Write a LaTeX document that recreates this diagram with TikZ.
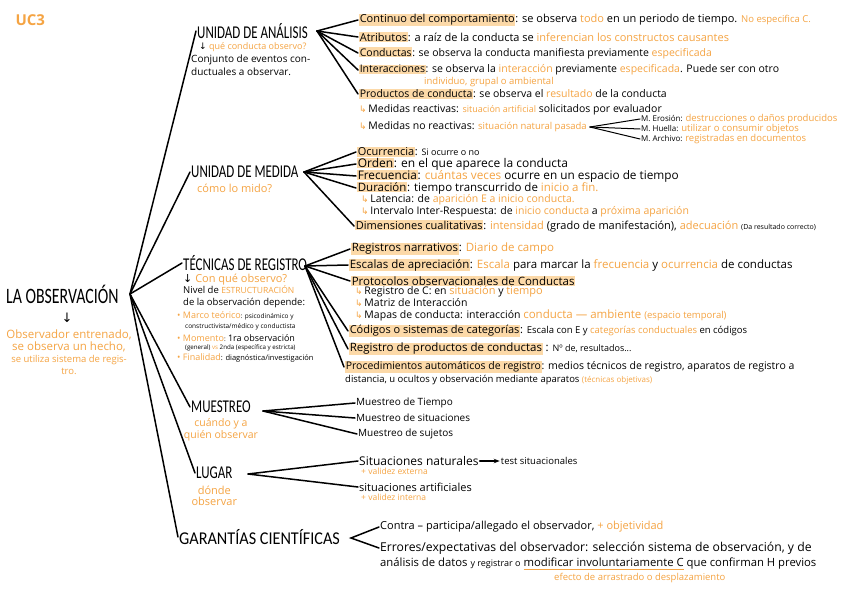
\documentclass[tikz,border=0pt]{standalone}
\usepackage{fontspec}
\setmainfont{Open Sans}
\newfontfamily\hdfont[FakeStretch=0.72]{Carlito}
\newfontfamily\hdwfont[FakeStretch=0.9]{Carlito}
\newfontfamily\symfont{DejaVu Sans}
\usepackage{tikz}
\usetikzlibrary{arrows.meta, positioning}
\definecolor{mOrange}{HTML}{F5A443}
\definecolor{mMarker}{HTML}{FCD9A8}
\newcommand\fs[1]{\fontsize{#1}{#1}\selectfont}
\newcommand\ot[1]{\textcolor{mOrange}{#1}}
\newcommand\hl[1]{{\setlength{\fboxsep}{0.6pt}\colorbox{mMarker}{#1}}}
\newcommand\hk{\ot{\symfont\fs{9}↳}\,}
\newcommand\dn{{\symfont ↓}}
\newlength\ullen
\newcommand\oul[1]{\settowidth\ullen{#1}\rlap{\textcolor{mOrange}{\rule[-3pt]{\ullen}{0.9pt}}}#1}

\begin{document}
\begin{tikzpicture}[x=1pt, y=-1pt,
    tx/.style={anchor=west, inner sep=1pt, font=\fs{10.5}},
    hd/.style={anchor=west, inner sep=1pt, font=\hdfont\fs{18}},
    br/.style={line width=1.5pt, line cap=round}]
  \path[use as bounding box, fill=white] (0,0) rectangle (848,599);

  \node[anchor=west, font=\bfseries\fs{15}, text=mOrange] (uc) at (12,20) {UC3};

  \node[hd, font=\hdfont\fs{22}] (obs) at (5,294) {LA OBSERVACIÓN};
  \node[font=\symfont\fs{13}, inner sep=0pt] (obsar) at (67,318) {↓};
  \node[align=center, text=mOrange, font=\fontsize{11.5}{12}\selectfont] (obsn) at (69,352) {Observador entrenado,\\se observa un hecho,\\{\fs{9.5}se utiliza sistema de regis-}\\{\fs{9.5}tro.}};
  \coordinate (oj) at (130,294);

  \node[hd] (ana) at (196,31) {UNIDAD DE ANÁLISIS};
  \node[tx, font=\fs{9}] (anaq) at (198,47) {\dn\ \ot{qué conducta observo?}};
  \node[tx, align=left, font=\fontsize{10}{13}\selectfont] (anad) at (190,65) {Conjunto de eventos con-\\ductuales a observar.};
  \coordinate (aj) at (317,31);

  \node[tx, font=\fs{11}] (a1) at (358,20) {\hl{Continuo del comportamiento}: se observa \ot{todo} en un periodo de tiempo. \ot{\fs{9.5}No especifica C.}};
  \node[tx, font=\fs{11}] (a2) at (358,37) {\hl{Atributos}: a raíz de la conducta se \ot{inferencian los constructos causantes}};
  \node[tx] (a3) at (358,53) {\hl{Conductas}: se observa la conducta manifiesta previamente \ot{especificada}};
  \node[tx] (a4) at (358,70) {\hl{Interacciones}: se observa la \ot{interacción} previamente \ot{especificada}. Puede ser con otro};
  \node[tx, font=\fs{9.5}, text=mOrange] (a4b) at (423,82) {individuo, grupal o ambiental};
  \node[tx] (a5) at (358,94) {\hl{Productos de conducta}: se observa el \ot{resultado} de la conducta};
  \node[tx, font=\fs{10.5}] (a6) at (358,110) {\hk Medidas reactivas: \ot{\fs{9}situación artificial} solicitados por evaluador};
  \node[tx, font=\fs{10.5}] (a7) at (358,127) {\hk Medidas no reactivas: \ot{\fs{9.5}situación natural pasada}};
  \coordinate[right=2pt of a7.east] (nj);
  \node[tx, font=\fs{8}] (m1) at (640,119) {M. Erosión: \ot{\fs{9.5}destrucciones o daños producidos}};
  \node[tx, font=\fs{8}] (m2) at (640,129) {M. Huella: \ot{\fs{9.5}utilizar o consumir objetos}};
  \node[tx, font=\fs{8}] (m3) at (640,139) {M. Archivo: \ot{\fs{9.5}registradas en documentos}};
  \foreach \n in {a1,a2,a3,a4,a5} \draw[br] (aj) -- (\n.west);
  \foreach \n in {m1,m2,m3} \draw[br, line width=1pt] (nj) -- (\n.west);

  \node[hd] (med) at (190,172) {UNIDAD DE MEDIDA};
  \node[tx, font=\fs{11}, text=mOrange] (medq) at (196,188) {cómo lo mido?};
  \coordinate (mj) at (304,172);
  \node[tx, font=\fs{11}] (d1) at (356,152) {\hl{Ocurrencia}: {\fs{9}Si ocurre o no}};
  \node[tx, font=\fs{12}] (d2) at (356,164) {\hl{Orden}: en el que aparece la conducta};
  \node[tx, font=\fs{11.8}] (d3) at (356,176) {\hl{Frecuencia}: \ot{cuántas veces} ocurre en un espacio de tiempo};
  \node[tx, font=\fs{11.5}] (d4) at (356,188) {\hl{Duración}: tiempo transcurrido de \ot{inicio a fin.}};
  \node[tx, font=\fs{10.5}] (d5) at (360,200) {\hk Latencia: de \ot{aparición E a inicio conducta.}};
  \node[tx, font=\fs{10.5}] (d6) at (360,212) {\hk Intervalo Inter-Respuesta: de \ot{inicio conducta} a \ot{próxima aparición}};
  \node[tx, font=\fs{11}] (d7) at (354,226) {\hl{Dimensiones cualitativas}: \ot{intensidad} (grado de manifestación), \ot{adecuación} {\fs{7}(Da resultado correcto)}};
  \foreach \n in {d1,d2,d3,d4,d7} \draw[br] (mj) -- (\n.west);

  \node[hd] (tec) at (182,263) {TÉCNICAS DE REGISTRO};
  \node[tx, font=\fs{11}] (tecq) at (182,280) {\dn\ \ot{Con qué observo?}};
  \node[tx, align=left, font=\fontsize{9.5}{12}\selectfont] (tecn) at (182,297) {Nivel de \ot{\fs{8.5}ESTRUCTURACIÓN}\\de la observación depende:};
  \node[tx, font=\fs{6.5}] (b1) at (176,316) {\ot{\fs{9}• Marco teórico}: psicodinámico y};
  \node[tx, font=\fs{6.5}] (b1b) at (184,327) {constructivista/médico y conductista};
  \node[tx, font=\fs{6.5}] (b2) at (176,338) {\ot{\fs{9}• Momento}: {\fs{9}1ra observación}};
  \node[tx, font=\fs{6.2}] (b2b) at (184,348) {(general) \ot{vs} 2nda (específica y estricta)};
  \node[tx, font=\fs{7.5}] (b3) at (176,358) {\ot{\fs{9}• Finalidad}: diagnóstica/investigación};
  \coordinate (tj) at (305,266);
  \node[tx, font=\fs{11.5}] (t1) at (350,249) {\hl{Registros narrativos}: \ot{Diario de campo}};
  \node[tx, font=\fs{11.5}] (t2) at (348,265) {\hl{Escalas de apreciación}: \ot{Escala} para marcar la \ot{frecuencia} y \ot{ocurrencia} de conductas};
  \node[tx, font=\fs{11.5}] (t3) at (350,281) {\hl{Protocolos observacionales de Conductas}};
  \node[tx, font=\fs{10.5}] (t3a) at (354,292) {\hk Registro de C: en \ot{\fs{11}situación} y \ot{\fs{11}tiempo}};
  \node[tx, font=\fs{10.5}] (t3b) at (354,303) {\hk Matriz de Interacción};
  \node[tx, font=\fs{10.5}] (t3c) at (354,315) {\hk Mapas de conducta: interacción \ot{\fs{11.5}conducta — ambiente {\fs{9.5}(espacio temporal)}}};
  \node[tx, font=\fs{11}] (t4) at (348,331) {\hl{Códigos o sistemas de categorías}: {\fs{9.5}Escala con E y \ot{categorías conductuales} en códigos}};
  \node[tx, font=\fs{11.5}] (t5) at (348,349) {\hl{Registro de productos de conductas} : {\fs{9}Nº de, resultados...}};
  \node[tx] (t6) at (344,367) {\hl{Procedimientos automáticos de registro}: {\fs{10.5}medios técnicos de registro, aparatos de registro a}};
  \node[tx, font=\fs{9.5}] (t6b) at (344,380) {distancia, u ocultos y observación mediante aparatos \ot{\fs{8}(técnicas objetivas)}};
  \foreach \n in {t1,t2,t3,t4,t5,t6} \draw[br] (tj) -- (\n.west);

  \node[hd] (mue) at (190,407) {MUESTREO};
  \node[align=center, text=mOrange, font=\fontsize{10.5}{11.5}\selectfont, below=1pt of mue] (mueq) {cuándo y a\\quién observar};
  \coordinate (sj) at (263,411);
  \node[tx, font=\fs{10}] (s1) at (355,403) {Muestreo de Tiempo};
  \node[tx, font=\fs{10}] (s2) at (355,418) {Muestreo de situaciones};
  \node[tx, font=\fs{10}] (s3) at (357,434) {Muestreo de sujetos};
  \foreach \n in {s1,s2,s3} \draw[br] (sj) -- (\n.west);

  \node[hd] (lug) at (195,473) {LUGAR};
  \node[align=center, text=mOrange, font=\fontsize{11}{11}\selectfont, below=2pt of lug] (lugq) {dónde\\observar};
  \coordinate (lj) at (248,474);
  \node[tx, font=\fs{12}] (l1) at (358,461) {Situaciones naturales};
  \node[tx, font=\fs{9.5}, right=20pt of l1] (l1t) {test situacionales};
  \node[tx, font=\fs{8.5}, text=mOrange] (l1v) at (360,471) {+ validez externa};
  \node[tx, font=\fs{11}] (l2) at (358,487) {situaciones artificiales};
  \node[tx, font=\fs{8.5}, text=mOrange] (l2v) at (360,497) {+ validez interna};
  \foreach \n in {l1,l2} \draw[br] (lj) -- (\n.west);
  \draw[br, -{Stealth[length=6pt]}] (l1) -- (l1t);

  \node[hd, font=\hdwfont\fs{18}] (gar) at (178,537) {GARANTÍAS CIENTÍFICAS};
  \coordinate (gj) at (351,538);
  \node[tx, font=\fs{11}] (g1) at (379,527) {Contra – participa/allegado el observador, \ot{+ objetividad}};
  \node[tx, font=\fs{12.2}] (g2) at (379,548) {Errores/expectativas del observador: selección sistema de observación, y de};
  \node[tx, font=\fs{11.3}] (g2b) at (379,564) {análisis de datos {\fs{9}y registrar o} \oul{modificar involuntariamente C} que confirman H previos};
  \node[tx, font=\fs{9.5}, text=mOrange] (g2c) at (553,578) {efecto de arrastrado o desplazamiento};
  \draw[br] (g1.west) -- (gj) -- (g2.west);

  \foreach \n in {ana,med,tec,mue,lug,gar} \draw[br] (oj) -- (\n.west);
\end{tikzpicture}
\end{document}
